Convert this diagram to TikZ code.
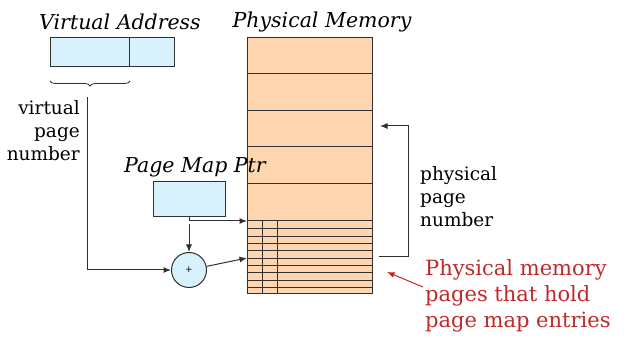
\documentclass[tikz,border=0pt]{standalone}
\usepackage{fontspec}
\setmainfont{DejaVu Serif}
\usetikzlibrary{arrows.meta,decorations.pathreplacing,calc}
\definecolor{lblue}{HTML}{D7F1FD}
\definecolor{lorange}{HTML}{FDD5AE}
\definecolor{dred}{HTML}{BE2A2A}
\definecolor{lgray}{HTML}{303030}
\begin{document}
\begin{tikzpicture}[x=1pt,y=-1pt,
  bluebox/.style={draw=lgray,fill=lblue,line width=1pt,inner sep=0pt},
  membox/.style={draw=lgray,fill=lorange,line width=1pt,inner sep=0pt,minimum width=125pt,minimum height=256pt},
  arr/.style={draw=lgray,line width=1pt,-{Latex[length=7.5pt,width=6pt]}},
  redarr/.style={draw=dred,line width=1pt,-{Latex[length=7.5pt,width=6pt]}},
  title/.style={font=\fontsize{20.5}{24}\selectfont\itshape},
  lbl/.style={font=\fontsize{18.5}{23}\selectfont,inner sep=0pt},
  redlbl/.style={font=\fontsize{21}{26}\selectfont,text=dred,inner sep=0pt},
  divider/.style={draw=lgray,line width=1pt}]
\useasboundingbox (0,0) rectangle (638,344);
% Virtual address
\node[bluebox,minimum width=124pt,minimum height=29pt] (va) at (112,52.5) {};
\draw[divider] ($(va.north west)+(80,0)$) -- ($(va.south west)+(80,0)$);
\node[title] (vatitle) at (120,22) {Virtual Address};
\draw[divider,line width=0.8pt,decorate,decoration={brace,mirror,amplitude=5pt}] (50,81) -- (130,81);
\node[lbl,align=right,anchor=east] (vpnlbl) at (80,131) {virtual\\page\\number};
% Physical memory
\node[membox] (pm) at (309.5,166) {};
\node[title] (pmtitle) at (322,22) {Physical Memory};
\foreach \yy in {74,111,147,184,221}{
  \draw[divider] (247,\yy) -- (372,\yy);}
\foreach \yy in {228,236,243,250,258,265,272,280,287}{
  \draw[divider,line width=0.9pt] (247,\yy) -- (372,\yy);}
\draw[divider] (262,221) -- (262,294);
\draw[divider] (277,221) -- (277,294);
% Page map ptr
\node[bluebox,minimum width=72pt,minimum height=35pt] (pmp) at (189,199.5) {};
\node[title] (pmptitle) at (195,167) {Page Map Ptr};
% adder
\node[circle,draw=lgray,fill=lblue,line width=1pt,minimum size=35pt,inner sep=0pt,font=\small] (add) at (189,270) {+};
% connectors
\coordinate (vpn) at (87,97);
\coordinate (ptab) at (247,221);
\coordinate (entry) at (247,258);
\draw[arr] (vpn) |- (add.west);
\draw[arr] (pmp.south) |- (ptab);
\draw[arr] ($(pmp.south)+(0,7)$) -- (add.north);
\draw[arr] (add) -- (entry);
\coordinate (ppnout) at (379,257);
\coordinate (ppnin) at (380,126);
\draw[arr] (ppnout) -- (408,257) -- (408,126) -- (ppnin);
\node[lbl,align=left,anchor=west] (ppnlbl) at (420,197) {physical\\page\\number};
% red note
\node[redlbl,align=left,anchor=west] (note) at (425,296) {Physical memory\\pages that hold\\page map entries};
\coordinate (notetip) at (387,272);
\draw[redarr] (423,287) -- (notetip);
\end{tikzpicture}
\end{document}
